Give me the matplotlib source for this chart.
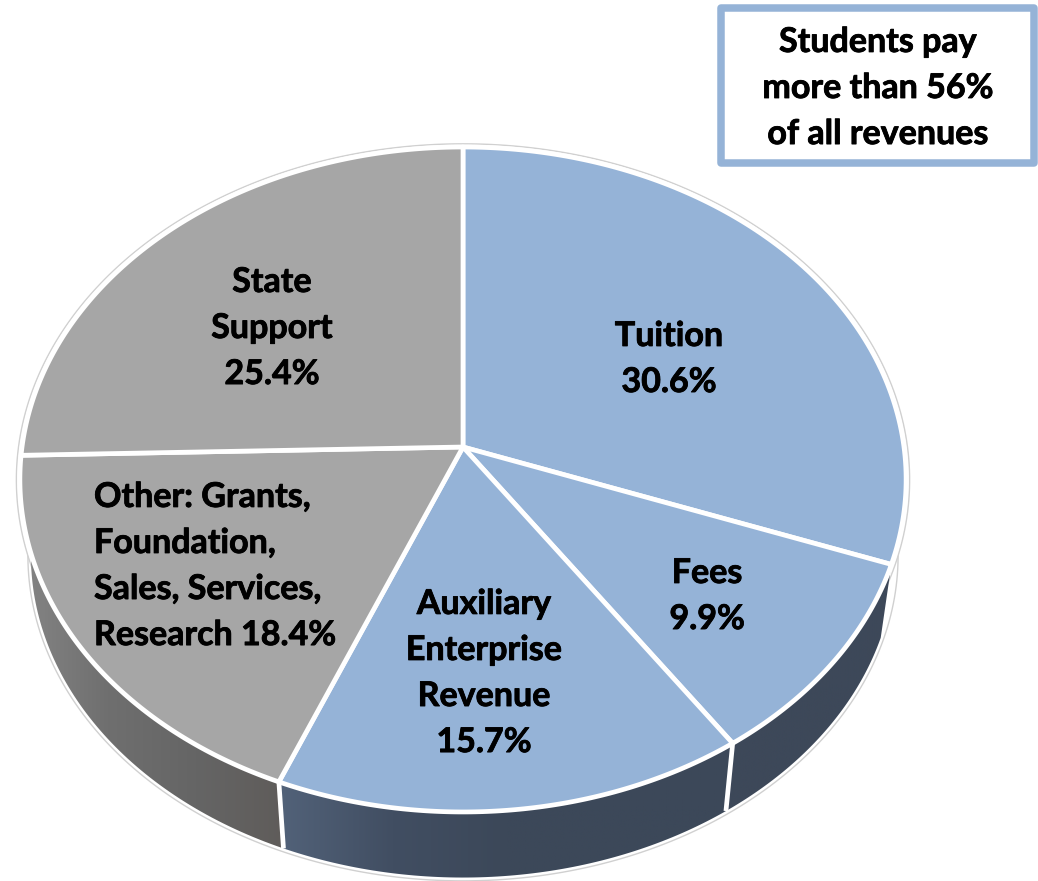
import numpy as np
import matplotlib
matplotlib.use('Agg')
import matplotlib.pyplot as plt
import matplotlib.patheffects as pe
from matplotlib.colors import LinearSegmentedColormap
from matplotlib.patches import Polygon, Rectangle

plt.rcParams['font.family'] = ['Lato', 'DejaVu Sans']

# clockwise from 12 o'clock
names = ['Tuition', 'Fees', 'Auxiliary\nEnterprise\nRevenue', 'Other: Grants,\nFoundation,\nSales, Services,\nResearch', 'State\nSupport']
shares = [30.6, 9.9, 15.7, 18.4, 25.4]
top_colors = ['#95b3d7', '#95b3d7', '#95b3d7', '#a6a6a6', '#a6a6a6']
note = 'Students pay\nmore than 56%\nof all revenues'

# pie seen in perspective, everything in pixels of the picture
k = 0.0977
cx = 463


def rim(deg, a, b, cy):
    t = np.radians(deg)
    u, v = np.sin(t), np.cos(t)
    d = 1 + k * v
    return np.column_stack([cx + a * u / d, cy - b * v / d])


def top(deg, grow=0):
    return rim(deg, 441 + grow, 329.3 + grow, 447)


def bottom(deg, grow=0):
    return rim(deg, 430 + grow, 319 + grow, 524)


fig = plt.figure(figsize=(10.38, 8.81), dpi=100)
ax = fig.add_axes([0, 0, 1, 1])
ax.set_xlim(0, 1038)
ax.set_ylim(881, 0)
ax.axis('off')

edges = np.cumsum([0] + shares) * 3.6
circle = np.linspace(0, 360, 361)

# thin outer line and white border around the body
for ring in [bottom(circle, 3), top(circle, 3.5)]:
    ax.add_patch(Polygon(ring, closed=True, fc='white', ec='#d0d0d0', lw=1, zorder=1))

# side walls
side_maps = {
    1: LinearSegmentedColormap.from_list('s1', ['#3d4859', '#3d4859']),
    2: LinearSegmentedColormap.from_list('s2', ['#526279', '#414e62', '#3c4859', '#3c4859', '#3c4859']),
    3: LinearSegmentedColormap.from_list('s3', ['#858585', '#6f6f6f', '#656565', '#5f5c5a']),
}
ramp = np.linspace(0, 1, 256).reshape(1, -1)
for i in [3, 2, 1]:
    deg = np.linspace(edges[i], edges[i + 1], 80)
    wall = np.vstack([top(deg), bottom(deg)[::-1]])
    patch = Polygon(wall, closed=True, fc='none', ec='none')
    ax.add_patch(patch)
    im = ax.imshow(ramp, cmap=side_maps[i], aspect='auto', zorder=2,
                   extent=[wall[:, 0].min(), wall[:, 0].max(), wall[:, 1].max(), wall[:, 1].min()])
    im.set_clip_path(patch)

# white seams between the walls
for e in edges[2:4]:
    seam = np.vstack([top(e), bottom(e)])
    ax.plot(seam[:, 0], seam[:, 1], color='white', lw=3.4, zorder=3, solid_capstyle='butt')
ax.set_xlim(0, 1038)
ax.set_ylim(881, 0)

# top face
for i, c in enumerate(top_colors):
    deg = np.linspace(edges[i], edges[i + 1], 120)
    wedge = np.vstack([[[cx, 447]], top(deg)])
    ax.add_patch(Polygon(wedge, closed=True, fc=c, ec='white', lw=3.4, joinstyle='round', zorder=4))

# labels, the stroke makes Lato as heavy as the original bold
font = dict(fontsize=24.5, fontweight='bold', color='black', zorder=5, linespacing=1.54,
            path_effects=[pe.withStroke(linewidth=0.6, foreground='black')])
ax.text(669, 359, f'{names[0]}\n{shares[0]}%', ha='center', va='center', **font)
ax.text(707, 596, f'{names[1]}\n{shares[1]}%', ha='center', va='center', **font)
ax.text(484, 673, f'{names[2]}\n{shares[2]}%', ha='center', va='center', **font)
ax.text(94, 566, f'{names[3]} {shares[3]}%', ha='left', va='center', **font)
ax.text(272, 328, f'{names[4]}\n{shares[4]}%', ha='center', va='center', **font)

# call-out box
ax.add_patch(Rectangle((721, 8), 312.5, 155, fc='white', ec='#95b3d7', lw=5.4, joinstyle='round', zorder=5))
ax.text(878, 88, note, ha='center', va='center', **{**font, 'zorder': 6})

fig.savefig('out.png', dpi=100)
